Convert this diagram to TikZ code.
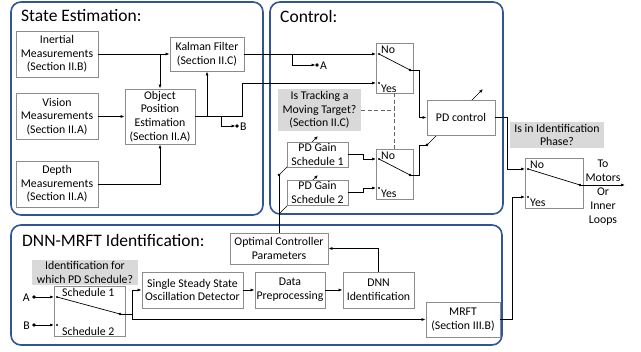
\documentclass[tikz,border=0pt]{standalone}
\usepackage{fontspec}
\setmainfont{Carlito}
\usetikzlibrary{arrows.meta,calc}
\pgfdeclarelayer{panellayer}
\pgfdeclarelayer{bglayer}
\pgfsetlayers{panellayer,bglayer,main}
\definecolor{panelblue}{HTML}{2F5597}
\definecolor{boxgrey}{HTML}{8C8C8C}
\definecolor{qgrey}{HTML}{D9D9D9}
\tikzset{
  box/.style={draw=boxgrey, line width=0.9pt, fill=white, align=center, inner sep=1pt},
  qbox/.style={fill=qgrey, align=center, inner sep=1pt},
  swbox/.style={draw=boxgrey, line width=0.9pt, fill=white, inner sep=0pt},
  conn/.style={line width=0.7pt},
  arr/.style={conn, -{Latex[length=4pt,width=3pt]}},
  panelframe/.style={draw=panelblue, line width=1.6pt, rounded corners=10pt},
  title/.style={font=\fontsize{17.5}{20}\selectfont, anchor=west, inner sep=0pt},
  lbl/.style={inner sep=0pt, anchor=west},
  dashline/.style={line width=0.6pt, draw=black!60, dash pattern=on 4pt off 2.5pt},
}
\begin{document}
\begin{tikzpicture}[x=1pt, y=-1pt, font=\fontsize{11.8}{13.7}\selectfont]
\useasboundingbox (0,0) rectangle (641,352);

% panels
\begin{pgfonlayer}{panellayer}
\draw[panelframe] (11,2) rectangle (263,215);
\draw[panelframe] (270,2) rectangle (503,214);
\draw[panelframe] (11,225) rectangle (502,345);
\end{pgfonlayer}
\node[title] (t1) at (21,16) {State Estimation:};
\node[title] (t2) at (280,16) {Control:};
\node[title] (t3) at (22,240) {DNN-MRFT Identification:};

% State estimation boxes
\node[box, minimum width=82pt, minimum height=46pt] (inertial) at (57,54) {Inertial\\Measurements\\(Section II.B)};
\node[box, minimum width=82pt, minimum height=46pt] (vision) at (57,116.5) {Vision\\Measurements\\(Section II.A)};
\node[box, minimum width=82pt, minimum height=46pt] (depth) at (57,184) {Depth\\Measurements\\(Section II.A)};
\node[box, minimum width=70pt, minimum height=55pt] (obj) at (160,116.5) {Object\\Position\\Estimation\\(Section II.A)};
\node[box, minimum width=74pt, minimum height=34pt] (kalman) at (207,54) {Kalman Filter\\(Section II.C)};

% Control boxes
\node[swbox, minimum width=37pt, minimum height=50pt] (sw1) at (394.5,68) {};
\node[swbox, minimum width=37pt, minimum height=50pt] (sw2) at (394.5,174) {};
\node[box, minimum width=68pt, minimum height=35pt] (pd) at (461,117.5) {PD control};
\node[qbox, minimum width=83pt, minimum height=42pt] (track) at (319.5,110) {Is Tracking a\\Moving Target?\\(Section II.C)};
\node[box, minimum width=61pt, minimum height=25pt] (g1) at (317.5,154.5) {PD Gain\\Schedule 1};
\node[box, minimum width=61pt, minimum height=25pt] (g2) at (317.5,192.5) {PD Gain\\Schedule 2};

% Output switch
\node[qbox, minimum width=94pt, minimum height=26pt] (idphase) at (557,135) {Is in Identification\\Phase?};
\node[swbox, minimum width=58pt, minimum height=50pt] (sw3) at (554,183) {};
\node[align=center, inner sep=0pt, font=\fontsize{11.8}{14}\selectfont] (motors) at (603,193) {To\\Motors\\Or\\Inner\\Loops};

% DNN-MRFT boxes
\node[box, minimum width=98pt, minimum height=31pt] (ocp) at (279,248.5) {Optimal Controller\\Parameters};
\node[qbox, minimum width=106pt, minimum height=25pt] (idwhich) at (85,272.5) {Identification for\\which PD Schedule?};
\node[swbox, minimum width=71pt, minimum height=50pt] (sw4) at (89.5,311) {};
\node[box, minimum width=101pt, minimum height=36pt] (ssod) at (192.5,290) {Single Steady State\\Oscillation Detector};
\node[box, minimum width=70pt, minimum height=36pt] (dp) at (290,290) {Data\\Preprocessing};
\node[box, minimum width=71pt, minimum height=36pt] (dnn) at (378.5,290) {DNN\\Identification};
\node[box, minimum width=74pt, minimum height=35pt] (mrft) at (463,319.5) {MRFT\\(Section III.B)};

% switch labels
\node[lbl] (sw1n) at (381,50) {No};
\node[lbl] (sw1y) at (381,89) {Yes};
\node[lbl] (sw2n) at (381,156) {No};
\node[lbl] (sw2y) at (381,194) {Yes};
\node[lbl] (sw3n) at (530,165) {No};
\node[lbl] (sw3y) at (530,203) {Yes};
\node[lbl] (sw4a) at (62,292) {Schedule 1};
\node[lbl] (sw4b) at (62,331) {Schedule 2};

% coordinates of switch contacts
\coordinate (sw1no) at (376,54);
\coordinate (sw1yes) at (376,83);
\coordinate (sw1out) at (410,70);
\coordinate (sw2no) at (376,159);
\coordinate (sw2yes) at (376,188);
\coordinate (sw2out) at (410,175);
\coordinate (sw3no) at (525,169);
\coordinate (sw3yes) at (525,197);
\coordinate (sw3out) at (580,185);
\coordinate (sw4no) at (54,297);
\coordinate (sw4yes) at (54,325);
\coordinate (sw4out) at (120,314);
\coordinate (Adot) at (317,65);
\coordinate (Bdot) at (237,126);
\coordinate (Ain) at (34,297);
\coordinate (Bin) at (34,325);
\coordinate (pdp) at (427,145);
\coordinate (g1p) at (279,175);
\coordinate (g2p) at (279,214);
\coordinate (motorsout) at (625,185);

% State estimation connectors
\draw[arr] (inertial.east) -- (kalman.west);
\draw[arr] (inertial.east -| obj.north) -- (obj.north);
\draw[arr] (vision.east) -- (obj.west);
\draw[arr] (depth.east) -| (obj.south);
\draw[arr] (obj.east) -- (242,116.5) |- (sw1yes);
\draw[arr] (obj.east -| kalman.south) -- (kalman.south);
\draw[arr, shorten >=1.5pt] (221,116.5) |- (Bdot);
\fill (Bdot) circle (1.9pt);
\node[lbl] (Blbl) at (240,126.5) {B};
\draw[arr] (kalman.east) -- (sw1no);
\draw[arr, shorten >=1.5pt] (292,54) |- (Adot);
\fill (Adot) circle (1.9pt);
\node[lbl] (Albl) at (320,65.5) {A};

% switch internals
\foreach \a/\b in {sw1no/sw1out, sw2no/sw2out, sw3no/sw3out, sw4no/sw4out}{
  \draw[conn] ($(\a)+(3,0)$) -- (\b);
  \fill ($(\a)+(3,0)$) circle (1.1pt);
  \fill (\b) circle (1.3pt);
}
\foreach \a in {sw1yes, sw2yes, sw3yes, sw4yes}{
  \fill ($(\a)+(3,0)$) circle (1.1pt);
}

% Control connectors
\draw[arr] (sw1out) -- (419,70) |- (pd.west);
\draw[dashline] (track.east) -- (track.east -| sw1.south);
\draw[dashline] (sw1.south) -- (sw2.north);
\draw[arr] (g1.east) -- (363,154.5) -- (363,159) -- (sw2no);
\draw[arr] (g2.east) -- (363,192.5) -- (363,188) -- (sw2yes);
\draw[conn] (sw2out) -- (419,175) |- (pdp);
\fill (pdp) circle (1.5pt);
\begin{pgfonlayer}{bglayer}
\draw[arr] (pdp) -- ++(56,-56);
\draw[arr] (g1p) -- ++(39,-39);
\draw[arr] (g2p) -- ++(39,-39);
\end{pgfonlayer}
\draw[conn] (ocp.north) -- (g1p);
\fill (g1p) circle (1.3pt);

% output switch connectors
\draw[arr] (pd.east) -- (507,117.5) |- (sw3no);
\draw[arr] (mrft.east) -- (512,319.5) |- (sw3yes);
\draw[arr] (sw3out) -- (motorsout);

% DNN-MRFT connectors
\fill (Ain) circle (1.9pt);
\fill (Bin) circle (1.9pt);
\node[anchor=east, inner sep=0pt] (Albl2) at (30,297.5) {A};
\node[anchor=east, inner sep=0pt] (Blbl2) at (30,325.5) {B};
\draw[arr] (Ain) -- (sw4no);
\draw[arr] (Bin) -- (sw4yes);
\draw[arr] (sw4out) -- (132,314) |- (ssod.west);
\draw[arr] (132,314) |- (mrft.west);
\draw[arr] (ssod.east) -- (dp.west);
\draw[arr] (dp.east) -- (dnn.west);
\draw[arr] (dnn.north) |- (ocp.east);
\end{tikzpicture}
\end{document}
